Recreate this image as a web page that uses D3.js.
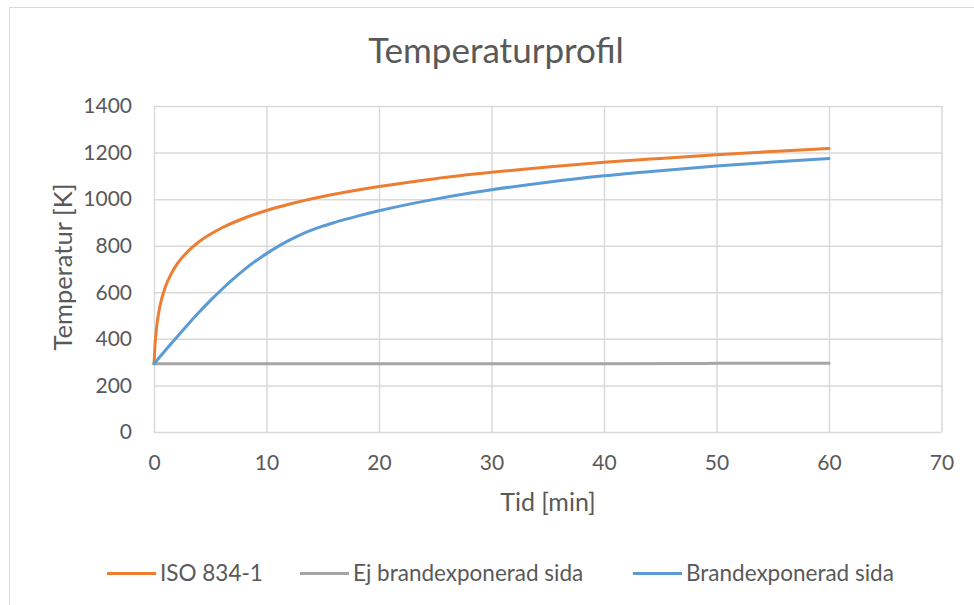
<!DOCTYPE html>
<html>
<head>
<meta charset="utf-8">
<script src="https://cdn.jsdelivr.net/npm/d3@7"></script>
<style>
  body { margin: 0; background: #fff; }
  text { font-family: Lato, "Open Sans", sans-serif; fill: #595959; }
</style>
</head>
<body>
<div id="root"></div>
<script>
// time [min] and temperature [K]
const isoTime = [0, 0.1, 0.25, 0.5, 1, 1.5, 2, 3, 4, 5, 6, 8, 10, 12, 15, 20, 25, 30, 35, 40, 45, 50, 55, 60];
const isoTemp = [293, 381, 458, 534, 622, 677, 718, 775, 817, 849, 876, 918, 951, 978, 1011, 1054, 1088, 1115, 1138, 1158, 1175, 1191, 1205, 1218];

const ejTime = [0, 10, 20, 30, 40, 48, 50, 60];
const ejTemp = [293, 293, 293, 293, 293, 294, 295, 295];

const brandTime = [0, 1, 2, 3, 4, 5, 6, 7, 8, 9, 10, 11, 12, 13, 14, 15, 16, 17, 18, 20, 25, 30, 35, 40, 45, 50, 55, 60];
const brandTemp = [293, 350, 406, 461, 514, 564, 611, 655, 696, 733, 766, 796, 823, 847, 867, 884, 899, 913, 926, 950, 1000, 1040, 1073, 1100, 1122, 1142, 1159, 1175];

const xTicks = [0, 10, 20, 30, 40, 50, 60, 70];
const yTicks = [0, 200, 400, 600, 800, 1000, 1200, 1400];

const seriesNames = ['ISO 834-1', 'Ej brandexponerad sida', 'Brandexponerad sida'];
const colors = ['#ED7D31', '#A5A5A5', '#5B9BD5'];

const width = 974;
const height = 605;
const plotLeft = 154, plotRight = 941.5, plotTop = 106, plotBottom = 432;

const svg = d3.select('#root')
    .append('svg')
        .attr('width', width)
        .attr('height', height);

// chart border
svg.append('rect')
    .attr('x', 9.5).attr('y', 7.5)
    .attr('width', 1000).attr('height', 1000)
    .attr('fill', 'none')
    .attr('stroke', '#D9D9D9');

const x = d3.scaleLinear().domain([0, 70]).range([plotLeft, plotRight]);
const y = d3.scaleLinear().domain([0, 1400]).range([plotBottom, plotTop]);

// y gridlines + labels
const yAxis = svg.append('g')
    .attr('transform', `translate(${plotLeft}, 0)`)
    .call(d3.axisLeft(y).tickValues(yTicks).tickFormat(d3.format('d'))
        .tickSize(-(plotRight - plotLeft)).tickPadding(22));

// x gridlines + labels
const xAxis = svg.append('g')
    .attr('transform', `translate(0, ${plotBottom})`)
    .call(d3.axisBottom(x).tickValues(xTicks).tickFormat(d3.format('d'))
        .tickSize(-(plotBottom - plotTop)).tickPadding(23));

[xAxis, yAxis].forEach(g => {
    g.select('.domain').remove();
    g.selectAll('line').attr('stroke', '#D9D9D9').attr('stroke-width', 1.5);
    g.selectAll('text')
        .style('font-family', 'Lato, sans-serif')
        .style('font-size', '21px')
        .attr('fill', '#595959');
});

// lines
const series = [
    isoTime.map((t, i) => [t, isoTemp[i]]),
    ejTime.map((t, i) => [t, ejTemp[i]]),
    brandTime.map((t, i) => [t, brandTemp[i]])
];

const line = d3.line()
    .x(d => x(d[0]))
    .y(d => y(d[1]))
    .curve(d3.curveMonotoneX);

svg.selectAll('.series')
    .data(series)
    .enter()
    .append('path')
        .attr('class', 'series')
        .attr('d', line)
        .attr('fill', 'none')
        .attr('stroke', (d, i) => colors[i])
        .attr('stroke-width', 3)
        .attr('stroke-linejoin', 'round')
        .attr('stroke-linecap', 'round');

// title
svg.append('text')
    .attr('x', 496).attr('y', 62.5)
    .attr('text-anchor', 'middle')
    .style('font-size', '35px')
    .text('Temperaturprofil');

// axis titles
svg.append('text')
    .attr('x', 548).attr('y', 510.5)
    .attr('text-anchor', 'middle')
    .style('font-size', '25px')
    .text('Tid [min]');

svg.append('text')
    .attr('transform', 'translate(71.5, 267) rotate(-90)')
    .attr('text-anchor', 'middle')
    .style('font-size', '25.5px')
    .text('Temperatur [K]');

// legend
const legendX = [107, 300, 633];
const legend = svg.selectAll('.legend')
    .data(seriesNames)
    .enter()
    .append('g')
        .attr('class', 'legend')
        .attr('transform', (d, i) => `translate(${legendX[i]}, 573.5)`);

legend.append('line')
    .attr('x1', 0).attr('x2', 49)
    .attr('stroke', (d, i) => colors[i])
    .attr('stroke-width', 3);

legend.append('text')
    .attr('x', 53).attr('y', 7.5)
    .style('font-size', '22.5px')
    .text(d => d);
</script>
</body>
</html>
